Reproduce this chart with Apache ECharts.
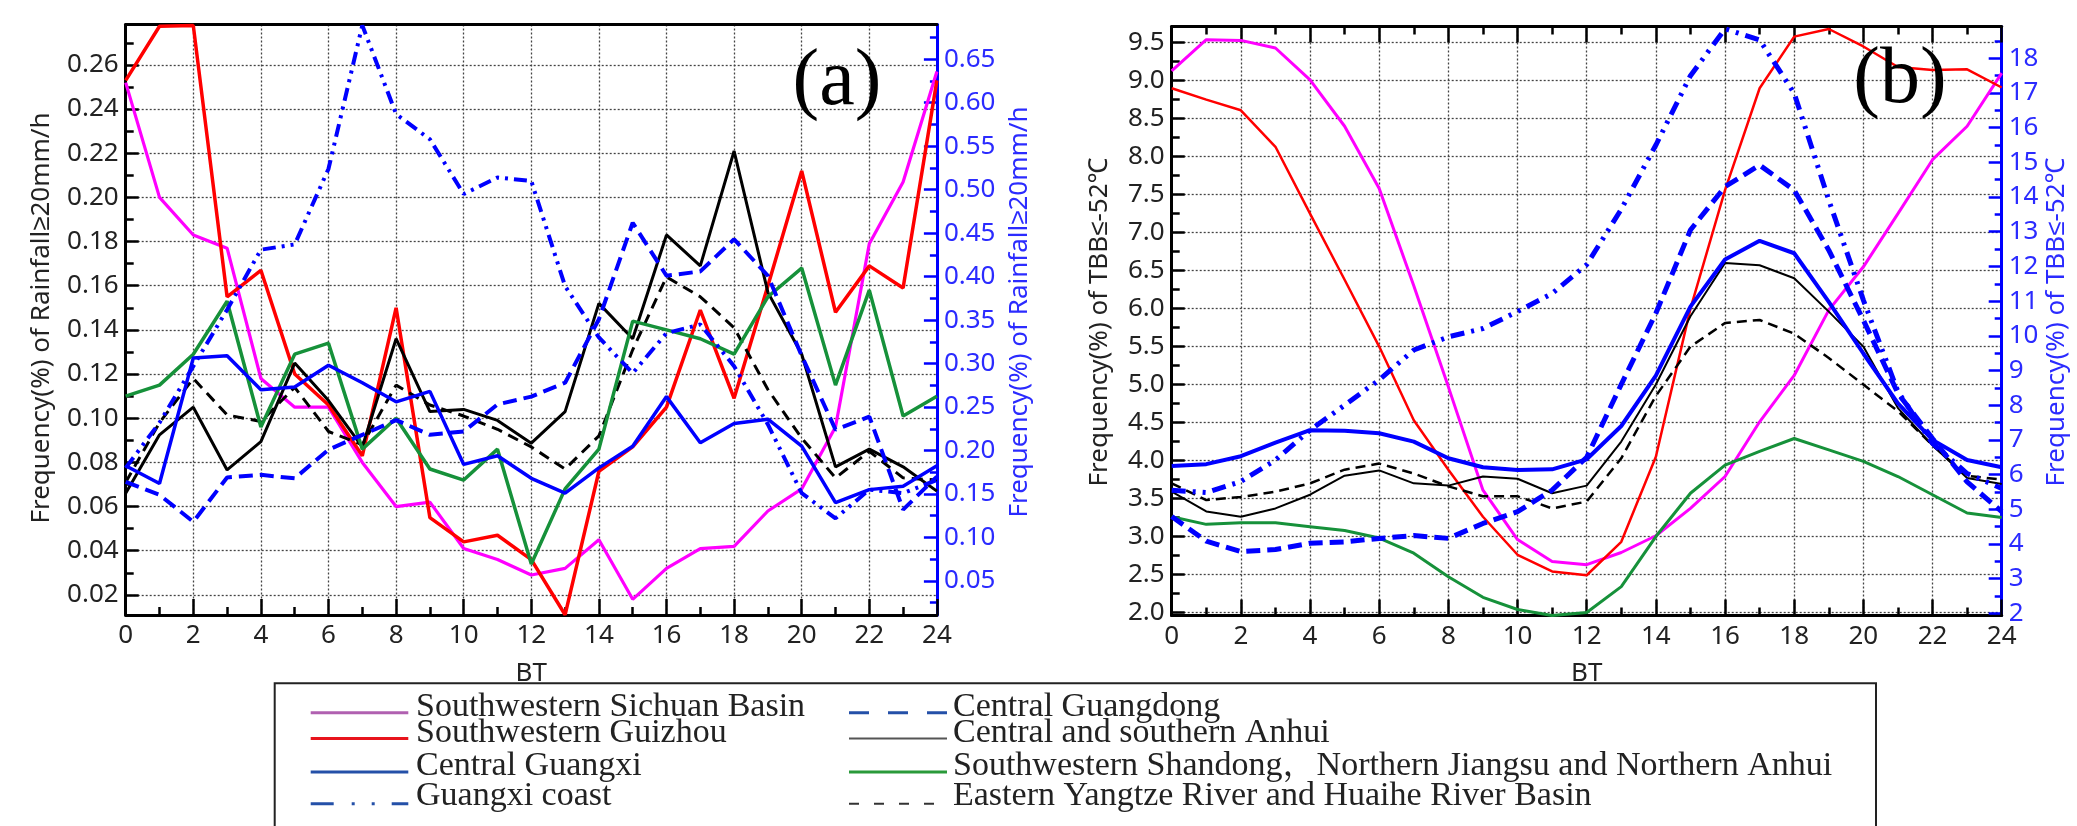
<!DOCTYPE html>
<html><head><meta charset="utf-8">
<script src="https://cdn.jsdelivr.net/npm/echarts@6/dist/echarts.min.js"></script>
<style>html,body{margin:0;padding:0;background:#fff}#c{width:2077px;height:826px}</style>
</head><body><div id="c"></div>
<script>
// ---------- data ----------
const hours = [0,1,2,3,4,5,6,7,8,9,10,11,12,13,14,15,16,17,18,19,20,21,22,23,24];

// Panel (a): frequency of rainfall >= 20 mm/h
const aSichuan   = [0.252,0.200,0.183,0.177,0.118,0.105,0.105,0.080,0.060,0.062,0.041,0.036,0.029,0.032,0.045,0.018,0.032,0.041,0.042,0.058,0.068,0.096,0.179,0.207,0.257];
const aGuizhou   = [0.253,0.2775,0.2778,0.155,0.167,0.120,0.106,0.083,0.150,0.055,0.044,0.047,0.036,0.011,0.076,0.087,0.105,0.149,0.109,0.160,0.212,0.148,0.169,0.159,0.253];
const aAnhui     = [0.066,0.0925,0.105,0.0766,0.0894,0.125,0.108,0.087,0.136,0.103,0.104,0.099,0.0887,0.103,0.152,0.136,0.183,0.169,0.221,0.157,0.129,0.078,0.086,0.078,0.067];
const aShandong  = [0.110,0.115,0.129,0.153,0.096,0.129,0.134,0.086,0.100,0.077,0.072,0.086,0.034,0.068,0.086,0.144,0.140,0.136,0.129,0.155,0.168,0.115,0.158,0.101,0.110];
const aYangtze   = [0.071,0.098,0.118,0.1015,0.0985,0.114,0.094,0.088,0.115,0.106,0.101,0.095,0.087,0.077,0.092,0.131,0.164,0.155,0.141,0.113,0.091,0.073,0.085,0.073,0.072];
const aCGuangxi  = [0.1825,0.162,0.3065,0.309,0.270,0.273,0.298,0.278,0.256,0.268,0.184,0.194,0.168,0.151,0.180,0.205,0.262,0.209,0.231,0.236,0.205,0.140,0.155,0.159,0.1825];
const aCoast     = [0.180,0.232,0.297,0.362,0.431,0.437,0.524,0.689,0.587,0.558,0.495,0.514,0.510,0.389,0.330,0.289,0.335,0.345,0.297,0.230,0.151,0.122,0.155,0.151,0.166];
const aGuangdong = [0.164,0.149,0.118,0.169,0.172,0.168,0.201,0.218,0.235,0.218,0.222,0.253,0.262,0.278,0.351,0.462,0.401,0.406,0.443,0.401,0.309,0.224,0.239,0.132,0.170];

// Panel (b): frequency of TBB <= -52 C
const bSichuan   = [9.13,9.54,9.53,9.43,9.01,8.40,7.58,6.30,4.97,3.61,2.96,2.67,2.63,2.79,3.01,3.37,3.79,4.51,5.12,5.98,6.55,7.25,7.96,8.40,9.10];
const bGuizhou   = [8.90,8.75,8.61,8.13,7.25,6.38,5.50,4.53,3.88,3.26,2.76,2.54,2.49,2.93,4.05,6.00,7.56,8.90,9.58,9.68,9.45,9.18,9.14,9.15,8.91];
const bAnhui     = [3.59,3.33,3.26,3.37,3.55,3.80,3.87,3.70,3.67,3.79,3.76,3.57,3.67,4.25,5.00,5.90,6.60,6.57,6.40,5.96,5.50,4.69,4.20,3.77,3.69];
const bShandong  = [3.26,3.16,3.18,3.18,3.13,3.08,2.98,2.78,2.47,2.20,2.04,1.96,2.00,2.34,3.00,3.57,3.94,4.12,4.29,4.14,3.99,3.79,3.55,3.31,3.25];
const bYangtze   = [3.70,3.48,3.52,3.59,3.70,3.88,3.96,3.83,3.66,3.53,3.53,3.37,3.46,4.03,4.85,5.50,5.81,5.85,5.67,5.35,5.00,4.65,4.20,3.80,3.75];
const bCGuangxi  = [6.25,6.30,6.53,6.92,7.28,7.26,7.19,6.95,6.47,6.21,6.13,6.15,6.44,7.40,8.85,10.84,12.20,12.74,12.38,10.98,9.49,8.05,7.00,6.42,6.21];
const bCoast     = [5.55,5.48,5.80,6.42,7.28,8.00,8.73,9.59,9.97,10.21,10.70,11.22,12.05,13.65,15.50,17.50,18.85,18.53,16.99,13.91,11.03,8.39,6.90,6.03,5.60];
const bGuangdong = [4.79,4.08,3.78,3.84,4.02,4.06,4.16,4.24,4.16,4.59,4.93,5.55,6.50,8.60,10.65,13.05,14.30,14.92,14.20,12.47,10.45,8.34,7.04,5.79,4.93];

// tick labels
const aLeftTicks  = [0.02,0.04,0.06,0.08,0.10,0.12,0.14,0.16,0.18,0.20,0.22,0.24,0.26];
const aLeftMinor  = [0.03,0.05,0.07,0.09,0.11,0.13,0.15,0.17,0.19,0.21,0.23,0.25,0.27];
const aRightTicks = [0.05,0.10,0.15,0.20,0.25,0.30,0.35,0.40,0.45,0.50,0.55,0.60,0.65];
const aRightMinor = [0.025,0.075,0.125,0.175,0.225,0.275,0.325,0.375,0.425,0.475,0.525,0.575,0.625,0.675];
const bLeftTicks  = [2.0,2.5,3.0,3.5,4.0,4.5,5.0,5.5,6.0,6.5,7.0,7.5,8.0,8.5,9.0,9.5];
const bLeftMinor  = [2.25,2.75,3.25,3.75,4.25,4.75,5.25,5.75,6.25,6.75,7.25,7.75,8.25,8.75,9.25];
const bRightTicks = [2,3,4,5,6,7,8,9,10,11,12,13,14,15,16,17,18];
const bRightMinor = [2.5,3.5,4.5,5.5,6.5,7.5,8.5,9.5,10.5,11.5,12.5,13.5,14.5,15.5,16.5,17.5,18.5];

const legendNames = ['Southwestern Sichuan Basin','Southwestern Guizhou','Central Guangxi','Guangxi coast',
  'Central Guangdong','Central and southern Anhui','Southwestern Shandong\uFF0CNorthern Jiangsu and Northern Anhui','Eastern Yangtze River and Huaihe River Basin'];

// ---------- chart ----------
const BLUE = '#0000ff', GREEN = '#16913a', MAG = '#ff00ff', RED = '#ff0000';
const LBL = '"Noto Sans", sans-serif';
const pts = arr => hours.map((h, i) => [h, arr[i]]);
const grid = [
  {left: 125.7, top: 24.5, width: 811.2, height: 590.5},
  {left: 1171.7, top: 26.5, width: 830, height: 589}
];
const dotted = {type: [2, 2], color: '#444', width: 1.3};

function xAxes(g, topTicks) {
  return [
    {gridIndex: g, type: 'value', position: 'bottom', min: 0, max: 24, interval: 2,
     axisLine: {show: true, onZero: false, lineStyle: {color: '#000', width: 3}},
     axisTick: {show: true, inside: true, length: 16, lineStyle: {color: '#000', width: 2.5}},
     minorTick: {show: true, splitNumber: 2, length: 8, lineStyle: {color: '#000', width: 2.5}},
     axisLabel: {fontSize: 26, fontFamily: LBL, color: '#222', margin: 8},
     splitLine: {show: true, lineStyle: dotted}},
    {gridIndex: g, type: 'value', position: 'top', min: 0, max: 24, interval: 2,
     axisLine: {show: true, onZero: false, lineStyle: {color: '#000', width: 3}},
     axisTick: {show: topTicks, inside: true, length: 16, lineStyle: {color: '#000', width: 2.5}},
     minorTick: {show: topTicks, splitNumber: 2, length: 8, lineStyle: {color: '#000', width: 2.5}},
     axisLabel: {show: false}, splitLine: {show: false}}
  ];
}
function yAxis(g, pos, min, max, ticks, fmt, color, len, labels, split) {
  return {gridIndex: g, type: 'value', position: pos, min: min, max: max,
    axisLine: {show: labels, onZero: false, lineStyle: {color: color, width: 3}},
    axisTick: {show: true, inside: true, length: len, customValues: ticks, lineStyle: {color: color, width: 2.5}},
    axisLabel: {show: labels, customValues: ticks, formatter: fmt, fontSize: 26, fontFamily: LBL,
                color: color === '#000' ? '#222' : '#2b2bff', margin: 7},
    splitLine: {show: split, lineStyle: dotted}};
}
const f2 = v => v.toFixed(2), f1 = v => v.toFixed(1), f0 = v => String(Math.round(v));

const aLMin = 0.0109, aLMax = 0.2783, aRMin = 0.0108, aRMax = 0.690;
const bLMin = 1.9605, bLMax = 9.713, bRMin = 1.937, bRMax = 18.917;

const yAxes = [
  yAxis(0, 'left', aLMin, aLMax, aLeftTicks, f2, '#000', 13, true, true),      // 0
  yAxis(0, 'left', aLMin, aLMax, aLeftMinor, f2, '#000', 8, false, false),     // 1
  yAxis(0, 'right', aRMin, aRMax, aRightTicks, f2, BLUE, 13, true, false),     // 2
  yAxis(0, 'right', aRMin, aRMax, aRightMinor, f2, BLUE, 7, false, false),     // 3
  yAxis(1, 'left', bLMin, bLMax, bLeftTicks, f1, '#000', 13, true, true),      // 4
  yAxis(1, 'left', bLMin, bLMax, bLeftMinor, f1, '#000', 8, false, false),     // 5
  yAxis(1, 'right', bRMin, bRMax, bRightTicks, f0, BLUE, 13, true, false),     // 6
  yAxis(1, 'right', bRMin, bRMax, bRightMinor, f0, BLUE, 7, false, false)      // 7
];

function line(name, data, xi, yi, color, width, type) {
  return {name: name, type: 'line', xAxisIndex: xi, yAxisIndex: yi, data: pts(data),
    symbol: 'none', silent: true, animation: false, smooth: false,
    lineStyle: {color: color, width: width, type: type || 'solid'}};
}
const series = [
  line(legendNames[0], aSichuan, 0, 0, MAG, 3.2),
  line(legendNames[1], aGuizhou, 0, 0, RED, 3.5),
  line(legendNames[5], aAnhui, 0, 0, '#000', 3),
  line(legendNames[7], aYangtze, 0, 0, '#000', 3, [11, 7]),
  line(legendNames[6], aShandong, 0, 0, GREEN, 3.5),
  line(legendNames[2], aCGuangxi, 0, 2, BLUE, 3.5),
  line(legendNames[4], aGuangdong, 0, 2, BLUE, 4, [14, 7]),
  line(legendNames[3], aCoast, 0, 2, BLUE, 4, [13, 6, 3, 6, 3, 6]),

  line(legendNames[0], bSichuan, 2, 4, MAG, 3),
  line(legendNames[1], bGuizhou, 2, 4, RED, 2.5),
  line(legendNames[5], bAnhui, 2, 4, '#000', 2),
  line(legendNames[7], bYangtze, 2, 4, '#000', 2.5, [10, 6]),
  line(legendNames[6], bShandong, 2, 4, GREEN, 3),
  line(legendNames[2], bCGuangxi, 2, 6, BLUE, 4),
  line(legendNames[4], bGuangdong, 2, 6, BLUE, 5, [14, 7]),
  line(legendNames[3], bCoast, 2, 6, BLUE, 5, [14, 7, 3, 7, 3, 7])
];

// ---------- graphic (titles, panel labels, legend) ----------
const TT = '"Noto Sans", sans-serif';
function txt(x, y, s, font, fill, rot, align) {
  return {type: 'text', x: x, y: y, rotation: rot || 0, z: 50,
    style: {text: s, font: font, fill: fill, align: align || 'center', verticalAlign: 'middle'}};
}
const graphics = [
  txt(42, 318, 'Frequency(%) of Rainfall\u226520mm/h', '26px ' + TT, '#222', Math.PI / 2),
  txt(1020, 312, 'Frequency(%) of Rainfall\u226520mm/h', '26px ' + TT, '#2b2bff', Math.PI / 2),
  txt(1100, 322, 'Frequency(%) of TBB\u2264-52\u2103', '26px ' + TT, '#222', Math.PI / 2),
  txt(2057, 322, 'Frequency(%) of TBB\u2264-52\u2103', '26px ' + TT, '#2b2bff', Math.PI / 2),
  txt(531.3, 674, 'BT', '26px ' + TT, '#222'),
  txt(1586.7, 674, 'BT', '26px ' + TT, '#222'),
  txt(837, 82.5, '(a)', '80px "Liberation Serif", serif', '#000'),
  txt(1900, 81, '(b)', '80px "Liberation Serif", serif', '#000'),
  {type: 'rect', z: 60, shape: {x: 274.7, y: 683.3, width: 1601.3, height: 200},
   style: {fill: '#fff', stroke: '#222', lineWidth: 2}}
];
const rowsLine = [712.7, 738.5, 772, 803.8];
const rowsText = [707, 733, 766.5, 796.5];
const legStyles = [
  {c: '#b060b0', w: 3}, {c: '#e8141c', w: 3}, {c: '#2450a8', w: 3}, {c: '#2450a8', w: 3, d: [23, 18, 3, 17, 3, 17, 23]},
  {c: '#2450a8', w: 3, d: [20, 19]}, {c: '#555', w: 2}, {c: '#2a9a3a', w: 3}, {c: '#333', w: 2, d: [10, 15]}
];
legendNames.forEach((n, i) => {
  const col = i < 4 ? 0 : 1, r = i % 4;
  const x1 = col ? 849 : 310.7, x2 = col ? 947 : 408.3, tx = col ? 953 : 416;
  const s = legStyles[i];
  graphics.push({type: 'line', z: 61, shape: {x1: x1, y1: rowsLine[r], x2: x2, y2: rowsLine[r]},
    style: {stroke: s.c, lineWidth: s.w, lineDash: s.d || null}});
  const t = txt(tx, rowsText[r], n, '34px "Liberation Serif", "Noto Serif CJK SC", "Noto Sans CJK SC", serif', '#222', 0, 'left');
  t.z = 61;
  graphics.push(t);
});

const chart = echarts.init(document.getElementById('c'), null, {renderer: 'canvas'});
chart.setOption({
  animation: false,
  backgroundColor: '#fff',
  grid: grid,
  xAxis: xAxes(0, false).concat(xAxes(1, true)),
  yAxis: yAxes,
  series: series,
  graphic: graphics
});
</script></body></html>
